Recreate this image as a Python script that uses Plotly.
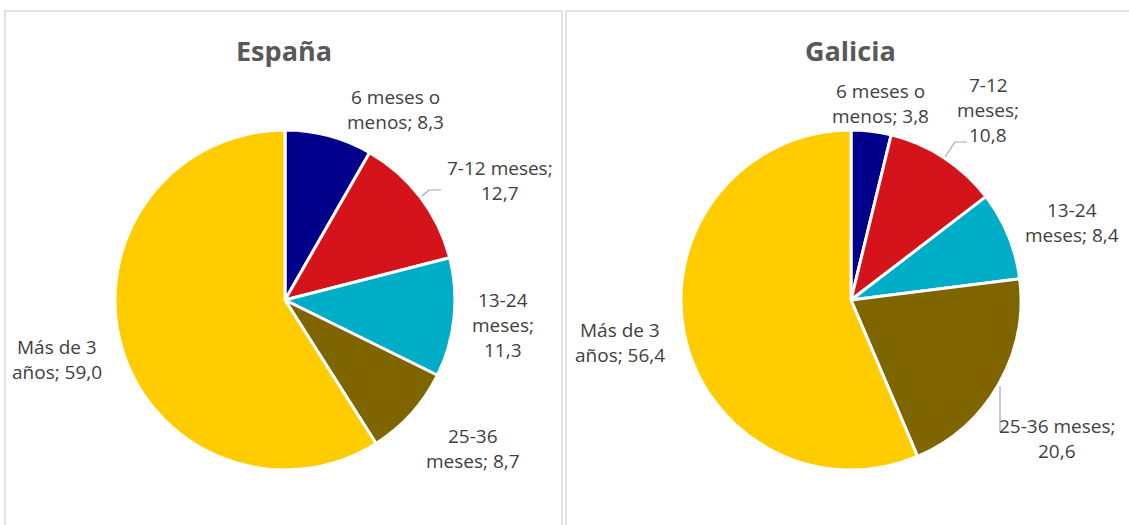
import plotly.graph_objects as go

W, H = 1129, 525

categories = ["6 meses o menos", "7-12 meses", "13-24 meses", "25-36 meses", "Más de 3 años"]
espana_values = [8.3, 12.7, 11.3, 8.7, 59.0]
galicia_values = [3.8, 10.8, 8.4, 20.6, 56.4]
titles = ["España", "Galicia"]
colors = ["#00008B", "#D5131A", "#00ADC6", "#7F6500", "#FFCC00"]

# label line-breaking (layout) per chart
espana_breaks = [["6 meses o", "menos; {v}"], ["7-12 meses;", "{v}"], ["13-24", "meses;", "{v}"],
                 ["25-36", "meses; {v}"], ["Más de 3", "años; {v}"]]
galicia_breaks = [["6 meses o", "menos; {v}"], ["7-12", "meses;", "{v}"], ["13-24", "meses; {v}"],
                  ["25-36 meses;", "{v}"], ["Más de 3", "años; {v}"]]
# label centre positions in pixels (x, y of first line)
espana_pos = [(395, 97), (500, 168), (503, 300), (473, 436), (57, 347)]
galicia_pos = [(880, 91), (988, 85), (1072, 210), (1057, 426), (620, 330)]

def fmt(v):
    return f"{v:.1f}".replace(".", ",")

def px(x):
    return x / W

def py(y):
    return 1 - y / H

fig = go.Figure()
pie_domains = [((115, 455), (130, 470)), ((681, 1021), (130, 470))]
for vals, (dx, dy) in zip([espana_values, galicia_values], pie_domains):
    fig.add_trace(go.Pie(
        labels=categories, values=vals, sort=False, direction="clockwise", rotation=0,
        marker=dict(colors=colors, line=dict(color="white", width=3)),
        textinfo="none", hoverinfo="label+value", showlegend=False,
        domain=dict(x=[px(dx[0]), px(dx[1])], y=[py(dy[1]), py(dy[0])]),
    ))

ann = []
LINE = 25
for vals, breaks, pos in [(espana_values, espana_breaks, espana_pos), (galicia_values, galicia_breaks, galicia_pos)]:
    for v, lines, (x0, y0) in zip(vals, breaks, pos):
        for i, ln in enumerate(lines):
            ann.append(dict(text=ln.format(v=fmt(v)), x=px(x0), y=py(y0 + i * LINE), xref="paper", yref="paper",
                            xanchor="center", yanchor="middle", showarrow=False,
                            font=dict(family="Open Sans", size=19, color="#404040")))
for t, x in zip(titles, [284, 850]):
    ann.append(dict(text=f"<b>{t}</b>", x=px(x), y=py(50), xref="paper", yref="paper",
                    xanchor="center", yanchor="middle", showarrow=False,
                    font=dict(family="Open Sans", size=27, color="#595959")))

shapes = [
    dict(type="rect", xref="paper", yref="paper", x0=px(5), x1=px(562), y0=py(540), y1=py(11),
         line=dict(color="#D9D9D9", width=1.5), layer="below"),
    dict(type="rect", xref="paper", yref="paper", x0=px(566), x1=px(1140), y0=py(540), y1=py(11),
         line=dict(color="#D9D9D9", width=1.5), layer="below"),
]
# leader lines
leaders = [[(422, 196), (429, 190), (441, 190)],
           [(945, 157), (955, 142), (967, 142)],
           [(1000, 386), (1000, 432)]]
for pts in leaders:
    path = "M " + " L ".join(f"{px(x)},{py(y)}" for x, y in pts)
    shapes.append(dict(type="path", xref="paper", yref="paper", path=path,
                       line=dict(color="#A6A6A6", width=1.2)))

fig.update_layout(width=W, height=H, margin=dict(l=0, r=0, t=0, b=0),
                  paper_bgcolor="white", plot_bgcolor="white",
                  annotations=ann, shapes=shapes)
fig.write_html("out.html", config={"displayModeBar": False},
               post_script="document.body.style.margin='0';document.body.style.overflow='hidden';")
